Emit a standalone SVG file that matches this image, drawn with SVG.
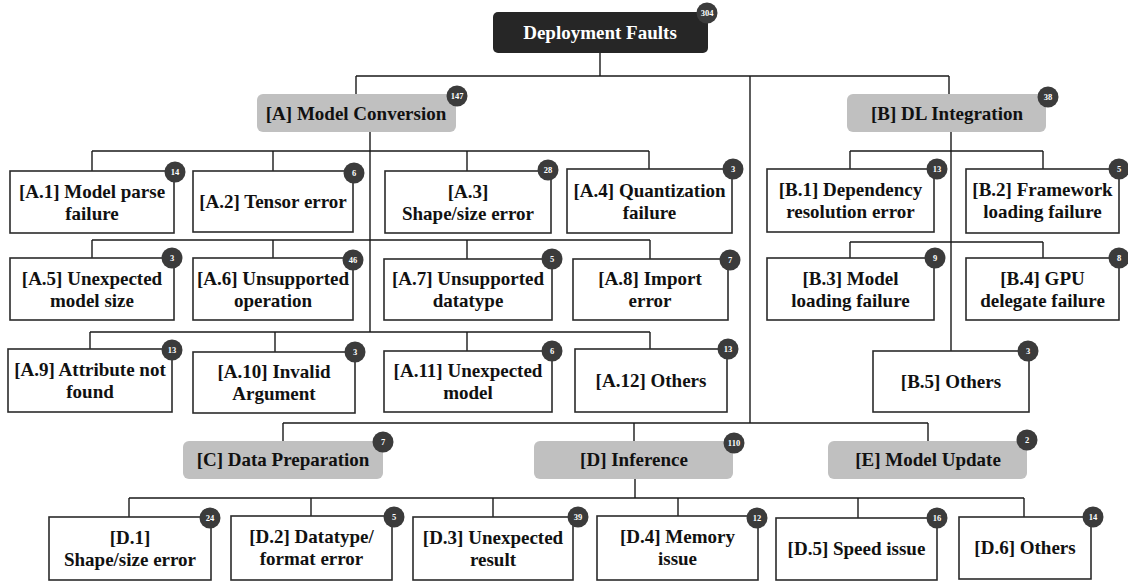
<svg xmlns="http://www.w3.org/2000/svg" width="1128" height="582" viewBox="0 0 1128 582">
<style>
text{font-family:"Times New Roman",Times,"Liberation Serif","DejaVu Serif",serif;font-weight:bold;text-anchor:middle}
.lbl{font-size:19px;fill:#111}
.root{fill:#262626}
.roott{font-size:19px;fill:#fff}
.cat{fill:#c0c0c0}
.leaf{fill:#fff;stroke:#2b2b2b;stroke-width:1.6}
.bdg circle{fill:#3b3b3b}
.bdg text{font-size:8.5px;fill:#fff}
.con{fill:none;stroke:#1a1a1a;stroke-width:1.4}
</style>
<rect width="1128" height="582" fill="#fff"/>
<g id="connectors" class="con">
<path d="M600 53V76M356 76H949M356 76V94M949 76V94M750 76V423M283 423H928M283 423V441M634 423V441M928 423V441"/>
<path d="M370 132V332M92 151H649M92 151V171M273 151V171M467 151V171M649 151V169"/>
<path d="M92 240H650M92 240V258M273 240V258M467 240V259M650 240V259"/>
<path d="M90 332H650M90 332V349M275 332V352M467 332V351M650 332V349"/>
<path d="M951 132V351M850 151H1043M850 151V169M1043 151V169M850 242H1043M850 242V258M1043 242V258"/>
<path d="M635 479V498M129 498H1024M129 498V517M311 498V516M493 498V517M678 498V516M858 498V518M1024 498V517"/>
</g>
<g id="root"><rect class="root" x="493" y="12" width="215" height="41" rx="5"/><text class="roott" x="600" y="39">Deployment Faults</text><g class="bdg"><circle cx="707" cy="13" r="10.5"/><text x="707" y="16">304</text></g></g>
<g id="A"><rect class="cat" x="257" y="94" width="199" height="38" rx="6"/><text class="lbl" x="356" y="120">[A] Model Conversion</text><g class="bdg"><circle cx="457" cy="96" r="10.5"/><text x="457" y="99">147</text></g></g>
<g id="B"><rect class="cat" x="847" y="94" width="199" height="38" rx="6"/><text class="lbl" x="947" y="120">[B] DL Integration</text><g class="bdg"><circle cx="1048" cy="97" r="10.5"/><text x="1048" y="100">38</text></g></g>
<g id="C"><rect class="cat" x="183" y="441" width="200" height="38" rx="6"/><text class="lbl" x="283" y="466">[C] Data Preparation</text><g class="bdg"><circle cx="383" cy="442" r="10.5"/><text x="383" y="445">7</text></g></g>
<g id="D"><rect class="cat" x="534" y="441" width="199" height="38" rx="6"/><text class="lbl" x="634" y="466">[D] Inference</text><g class="bdg"><circle cx="734" cy="443" r="10.5"/><text x="734" y="446">110</text></g></g>
<g id="E"><rect class="cat" x="828" y="441" width="199" height="38" rx="6"/><text class="lbl" x="928" y="466">[E] Model Update</text><g class="bdg"><circle cx="1027" cy="440" r="10.5"/><text x="1027" y="443">2</text></g></g>

<g id="A1"><rect class="leaf" x="10" y="171" width="164" height="62"/><text class="lbl" x="92" y="198">[A.1] Model parse</text><text class="lbl" x="92" y="220">failure</text><g class="bdg"><circle cx="175" cy="172" r="10.5"/><text x="175" y="175">14</text></g></g>
<g id="A2"><rect class="leaf" x="193" y="171" width="160" height="61"/><text class="lbl" x="273" y="208">[A.2] Tensor error</text><g class="bdg"><circle cx="354" cy="173" r="10.5"/><text x="354" y="176">6</text></g></g>
<g id="A3"><rect class="leaf" x="385" y="171" width="166" height="62"/><text class="lbl" x="468" y="198">[A.3]</text><text class="lbl" x="468" y="220">Shape/size error</text><g class="bdg"><circle cx="548" cy="170" r="10.5"/><text x="548" y="173">28</text></g></g>
<g id="A4"><rect class="leaf" x="567" y="169" width="165" height="64"/><text class="lbl" x="649.5" y="197">[A.4] Quantization</text><text class="lbl" x="649.5" y="219">failure</text><g class="bdg"><circle cx="733" cy="169" r="10.5"/><text x="733" y="172">3</text></g></g>
<g id="A5"><rect class="leaf" x="10" y="258" width="164" height="62"/><text class="lbl" x="92" y="285">[A.5] Unexpected</text><text class="lbl" x="92" y="307">model size</text><g class="bdg"><circle cx="172" cy="258" r="10.5"/><text x="172" y="261">3</text></g></g>
<g id="A6"><rect class="leaf" x="193" y="258" width="160" height="62"/><text class="lbl" x="273" y="285">[A.6] Unsupported</text><text class="lbl" x="273" y="307">operation</text><g class="bdg"><circle cx="353" cy="260" r="10.5"/><text x="353" y="263">46</text></g></g>
<g id="A7"><rect class="leaf" x="384" y="259" width="168" height="61"/><text class="lbl" x="468" y="285">[A.7] Unsupported</text><text class="lbl" x="468" y="307">datatype</text><g class="bdg"><circle cx="552" cy="259" r="10.5"/><text x="552" y="262">5</text></g></g>
<g id="A8"><rect class="leaf" x="573" y="259" width="155" height="61"/><text class="lbl" x="650" y="285">[A.8] Import</text><text class="lbl" x="650" y="307">error</text><g class="bdg"><circle cx="730" cy="260" r="10.5"/><text x="730" y="263">7</text></g></g>
<g id="A9"><rect class="leaf" x="8" y="349" width="164" height="63"/><text class="lbl" x="90" y="376">[A.9] Attribute not</text><text class="lbl" x="90" y="398">found</text><g class="bdg"><circle cx="172" cy="350" r="10.5"/><text x="172" y="353">13</text></g></g>
<g id="A10"><rect class="leaf" x="193" y="352" width="162" height="61"/><text class="lbl" x="274" y="378">[A.10] Invalid</text><text class="lbl" x="274" y="400">Argument</text><g class="bdg"><circle cx="355" cy="352" r="10.5"/><text x="355" y="355">3</text></g></g>
<g id="A11"><rect class="leaf" x="384" y="351" width="168" height="61"/><text class="lbl" x="468" y="377">[A.11] Unexpected</text><text class="lbl" x="468" y="399">model</text><g class="bdg"><circle cx="552" cy="351" r="10.5"/><text x="552" y="354">6</text></g></g>
<g id="A12"><rect class="leaf" x="575" y="349" width="152" height="63"/><text class="lbl" x="651" y="387">[A.12] Others</text><g class="bdg"><circle cx="728" cy="349" r="10.5"/><text x="728" y="352">13</text></g></g>

<g id="B1"><rect class="leaf" x="767" y="169" width="167" height="63"/><text class="lbl" x="850.5" y="196">[B.1] Dependency</text><text class="lbl" x="850.5" y="218">resolution error</text><g class="bdg"><circle cx="937" cy="169" r="10.5"/><text x="937" y="172">13</text></g></g>
<g id="B2"><rect class="leaf" x="966" y="169" width="153" height="64"/><text class="lbl" x="1042.5" y="196">[B.2] Framework</text><text class="lbl" x="1042.5" y="218">loading failure</text><g class="bdg"><circle cx="1119" cy="169" r="10.5"/><text x="1119" y="172">5</text></g></g>
<g id="B3"><rect class="leaf" x="767" y="258" width="167" height="62"/><text class="lbl" x="850.5" y="285">[B.3] Model</text><text class="lbl" x="850.5" y="307">loading failure</text><g class="bdg"><circle cx="935" cy="258" r="10.5"/><text x="935" y="261">9</text></g></g>
<g id="B4"><rect class="leaf" x="966" y="258" width="153" height="62"/><text class="lbl" x="1042.5" y="285">[B.4] GPU</text><text class="lbl" x="1042.5" y="307">delegate failure</text><g class="bdg"><circle cx="1119" cy="258" r="10.5"/><text x="1119" y="261">8</text></g></g>
<g id="B5"><rect class="leaf" x="873" y="351" width="156" height="61"/><text class="lbl" x="951" y="388">[B.5] Others</text><g class="bdg"><circle cx="1028" cy="351" r="10.5"/><text x="1028" y="354">3</text></g></g>

<g id="D1"><rect class="leaf" x="49" y="517" width="162" height="63"/><text class="lbl" x="130" y="544">[D.1]</text><text class="lbl" x="130" y="566">Shape/size error</text><g class="bdg"><circle cx="210" cy="518" r="10.5"/><text x="210" y="521">24</text></g></g>
<g id="D2"><rect class="leaf" x="231" y="516" width="161" height="64"/><text class="lbl" x="311.5" y="543">[D.2] Datatype/</text><text class="lbl" x="311.5" y="565">format error</text><g class="bdg"><circle cx="394" cy="517" r="10.5"/><text x="394" y="520">5</text></g></g>
<g id="D3"><rect class="leaf" x="413" y="517" width="160" height="63"/><text class="lbl" x="493" y="544">[D.3] Unexpected</text><text class="lbl" x="493" y="566">result</text><g class="bdg"><circle cx="578" cy="517" r="10.5"/><text x="578" y="520">39</text></g></g>
<g id="D4"><rect class="leaf" x="597" y="516" width="161" height="64"/><text class="lbl" x="677.5" y="543">[D.4] Memory</text><text class="lbl" x="677.5" y="565">issue</text><g class="bdg"><circle cx="757" cy="518" r="10.5"/><text x="757" y="521">12</text></g></g>
<g id="D5"><rect class="leaf" x="776" y="518" width="161" height="62"/><text class="lbl" x="856.5" y="555">[D.5] Speed issue</text><g class="bdg"><circle cx="937" cy="518" r="10.5"/><text x="937" y="521">16</text></g></g>
<g id="D6"><rect class="leaf" x="959" y="517" width="132" height="62"/><text class="lbl" x="1025" y="554">[D.6] Others</text><g class="bdg"><circle cx="1093" cy="517" r="10.5"/><text x="1093" y="520">14</text></g></g>
</svg>
